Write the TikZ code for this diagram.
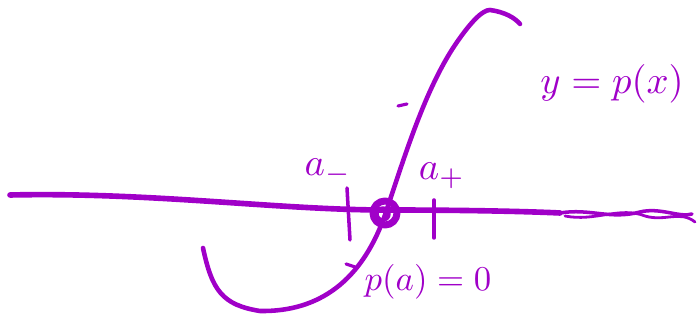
\documentclass[tikz,border=0pt]{standalone}
\usepackage{amsmath,amssymb}
\usepackage{tikz}
\definecolor{pen}{RGB}{160,0,200}
\tikzset{ink/.style = {pen, line width = 2.6pt, line cap = round, line join = round},
         lbl/.style = {pen, scale = 2.2}}

\begin{document}
\begin{tikzpicture}[x = 0.02cm, y = -0.02cm]
\useasboundingbox (0,0) rectangle (698,333);
% axis
\draw [ink, line width = 3.2pt] (10,195) .. controls (150,192) and (280,210) .. (385,210) .. controls (480,210) and (540,212) .. (560,213);
\draw [ink, line width = 2pt] (560,213) .. controls (590,208) and (610,220) .. (640,212) .. controls (660,207) and (680,218) .. (692,214);
\draw [ink, line width = 1.6pt] (565,216) .. controls (595,222) and (620,206) .. (645,216) .. controls (665,222) and (680,210) .. (695,222);
% curve
\draw [ink] (203,248) .. controls (212,290) and (222,305) .. (260,311) .. controls (320,312) and (362,280) .. (385,215) .. controls (405,155) and (425,90) .. (455,45) .. controls (472,20) and (483,10) .. (490,10) .. controls (505,12) and (515,18) .. (520,24);
% root
\draw [ink, line width = 4pt] (385,213) circle (12);
\draw [ink, line width = 2pt] (383,214) circle (6);
% ticks
\draw [ink, line width = 2pt] (347,188) -- (350,240);
\draw [ink, line width = 2pt] (434,200) -- (434,238);
\draw [ink, line width = 1.8pt] (407,104) -- (398,106);
\draw [ink, line width = 1.8pt] (346,264) -- (355,267);
% labels
\node [lbl] (aminus) at (328,172) {$a_-$};
\node [lbl] (aplus) at (442,176) {$a_+$};
\node [lbl] (graph) at (612,84) {$y = p(x)$};
\node [lbl, scale = 0.9] (root) at (428,282) {$p(a)=0$};
\end{tikzpicture}
\end{document}
